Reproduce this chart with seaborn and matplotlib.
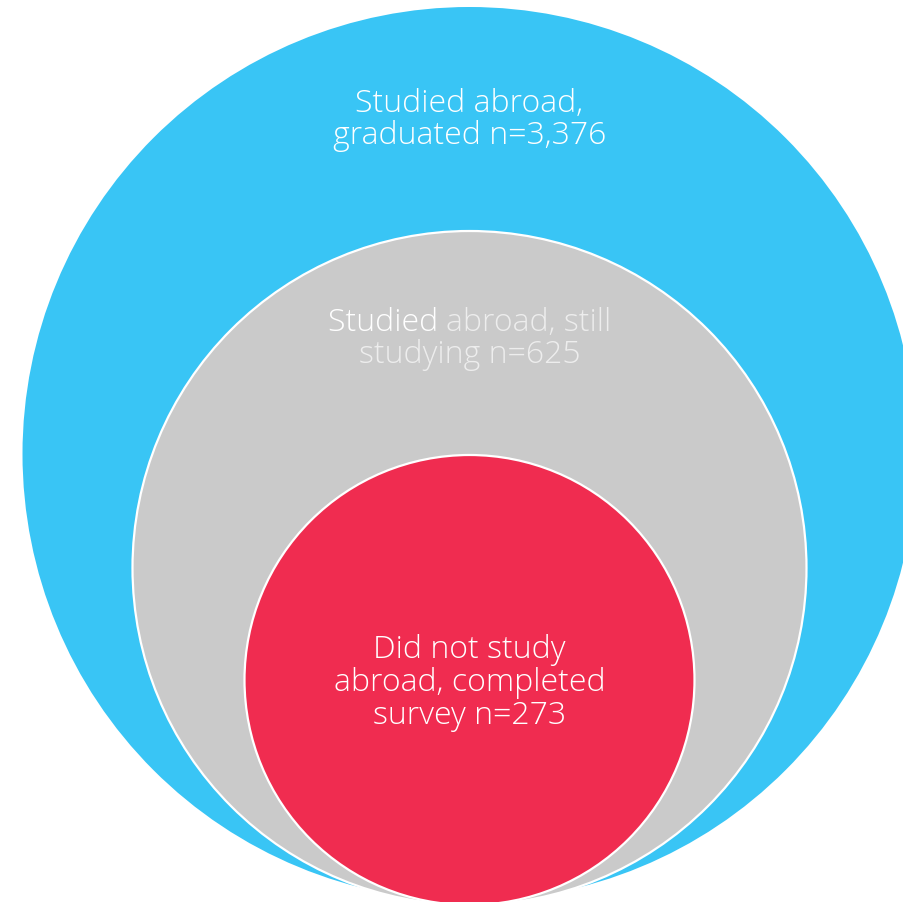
import numpy as np
import matplotlib
matplotlib.use("Agg")
import matplotlib.pyplot as plt
from matplotlib.patches import Circle
import seaborn as sns

# data
groups = ["Studied abroad, graduated", "Studied abroad, still studying",
          "Did not study abroad, completed survey"]
counts = [3376, 625, 273]

# layout (pixels of the 904x902 canvas)
radii = [447, 337, 225]
bottoms = [901, 905, 905]
colors = ["#39C5F5", "#CACACA", "#F02C50"]
edges = ["none", "white", "white"]
center_x = 469.5
W, H = 904, 902

sns.set_theme(style="white")
plt.rcParams["font.family"] = ["Open Sans", "DejaVu Sans"]

fig = plt.figure(figsize=(W / 100, H / 100), dpi=100)
ax = fig.add_axes([0, 0, 1, 1])
ax.set_xlim(0, W)
ax.set_ylim(H, 0)
ax.set_axis_off()

for r, b, c, e in zip(radii, bottoms, colors, edges):
    ax.add_patch(Circle((center_x, b - r), r, facecolor=c,
                        edgecolor=e, linewidth=1.6))

renderer = fig.canvas.get_renderer()
inv = ax.transData.inverted()

# pick a font size so a reference line is ~273 px wide
probe = ax.text(0, 0, f"graduated n={counts[0]:,}", fontsize=20,
                fontweight="light", alpha=0)
pw = probe.get_window_extent(renderer).width
probe.remove()
fs = 20 * 273 / pw

kw = dict(fontsize=fs, fontweight="light", va="center")

# label 1
ax.text(center_x, 104, "Studied abroad,", color="white", ha="center", **kw)
ax.text(center_x, 136, f"graduated n={counts[0]:,}", color="white", ha="center", **kw)

# label 2: first word white, rest pale grey
line = "Studied abroad, still"
full = ax.text(center_x, 323, line, ha="center", alpha=0, **kw)
bb = full.get_window_extent(renderer)
x_left = inv.transform((bb.x0, bb.y0))[0]
first = ax.text(x_left, 323, "Studied ", color="white", ha="left", **kw)
bb1 = first.get_window_extent(renderer)
x_next = inv.transform((bb1.x1, bb1.y0))[0]
ax.text(x_next, 323, "abroad, still", color="#EDEDED", ha="left", **kw)
ax.text(center_x, 355, f"studying n={counts[1]:,}", color="#EDEDED", ha="center", **kw)

# label 3
ax.text(center_x, 650, "Did not study", color="white", ha="center", **kw)
ax.text(center_x, 683, "abroad, completed", color="white", ha="center", **kw)
ax.text(center_x, 716, f"survey n={counts[2]:,}", color="white", ha="center", **kw)

fig.savefig("out.png", dpi=100)
